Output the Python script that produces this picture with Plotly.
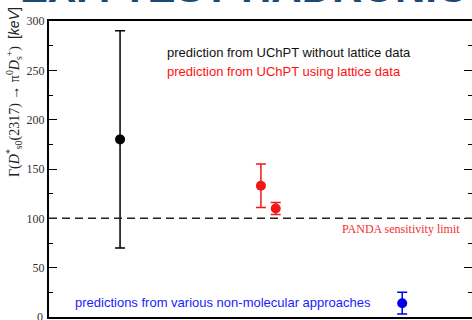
import plotly.graph_objects as go

# Decay-width predictions, keV (horizontal positions are just slots on the plot)
black_x = [0.168]
black_y = [180]
black_err = [110]

red_x = [0.501, 0.536]
red_y = [133, 110]
red_err = [22, 6]

blue_x = [0.835]
blue_y = [14]
blue_err = [11]

panda_limit = 100
y_ticks = [0, 50, 100, 150, 200, 250, 300]

W, H = 472, 320
ML, MR, MT, MB = 49, 0, 21, 3
PW = W - ML - MR

fig = go.Figure()


def series(xs, ys, errs, color):
    fig.add_trace(go.Scatter(
        x=xs, y=ys, mode="markers",
        marker=dict(color=color, size=10),
        error_y=dict(type="data", array=errs, visible=True,
                     color=color, thickness=1.5, width=5),
        showlegend=False, cliponaxis=False,
    ))


series(black_x, black_y, black_err, "black")
series(red_x, red_y, red_err, "#f01818")
series(blue_x, blue_y, blue_err, "#0000ee")

# PANDA sensitivity limit
fig.add_shape(type="line", xref="paper", yref="y", x0=0, x1=1,
              y0=panda_limit, y1=panda_limit,
              line=dict(color="#222", width=1.5, dash="8px,5px"))

# invisible trace carrying the right-hand tick marks
fig.add_trace(go.Scatter(x=[None], y=[None], yaxis="y2", showlegend=False))

serif = "Liberation Serif, Times New Roman, serif"
sans = "Liberation Sans, Arial, Helvetica, sans-serif"
tick_font = dict(family=serif, size=12, color="#333")

annotations = [
    dict(text="prediction from UChPT without lattice data", x=0.274, y=268,
         xref="paper", yref="y", xanchor="left", yanchor="middle",
         showarrow=False, font=dict(family=sans, size=13, color="#111")),
    dict(text="prediction from UChPT using lattice data", x=0.274, y=249,
         xref="paper", yref="y", xanchor="left", yanchor="middle",
         showarrow=False, font=dict(family=sans, size=13, color="#ff1010")),
    dict(text="predictions from various non-molecular approaches", x=0.056, y=14.5,
         xref="paper", yref="y", xanchor="left", yanchor="middle",
         showarrow=False, font=dict(family=sans, size=13, color="#1a1aff")),
    dict(text="PANDA sensitivity limit", x=0.976, y=89,
         xref="paper", yref="y", xanchor="right", yanchor="middle",
         showarrow=False, font=dict(family=serif, size=12, color="#f03030")),
    dict(text="Γ(<i>D</i><sup>*</sup><sub>s0</sub>(2317) → π<sup>0</sup><i>D</i><sub>s</sub><sup>+</sup>)  "
              "<span style='font-family:Liberation Sans'>[<i>keV</i>]</span>",
         x=(14 - ML) / PW, y=(H - MB - 92) / (H - MT - MB),
         xref="paper", yref="paper", xanchor="center", yanchor="middle",
         textangle=-90, showarrow=False,
         font=dict(family=serif, size=14, color="#222")),
    # label for the bottom tick, which the axis itself leaves out at the corner
    dict(text=str(y_ticks[0]), x=(45 - ML) / PW, y=y_ticks[0],
         xref="paper", yref="y", xanchor="right", yanchor="middle",
         showarrow=False, font=tick_font),
    dict(text="<b>EXP. TEST HADRONIC</b>", x=(18 - ML) / PW,
         y=1, yshift=(MT - 13),
         xref="paper", yref="paper", xanchor="left", yanchor="bottom",
         showarrow=False, font=dict(family=sans, size=42, color="#1c4a78")),
]

fig.update_layout(
    width=W, height=H,
    margin=dict(l=ML, r=MR, t=MT, b=MB),
    paper_bgcolor="white", plot_bgcolor="white",
    showlegend=False,
    annotations=annotations,
    xaxis=dict(range=[0, 1], showgrid=False, zeroline=False,
               showticklabels=False, ticks="",
               showline=True, linecolor="black", linewidth=2, mirror=True),
    yaxis=dict(range=[0, 300], tickvals=y_ticks,
               ticktext=[""] + [str(v) for v in y_ticks[1:]],
               showgrid=False, zeroline=False,
               ticks="inside", ticklen=8, tickwidth=1.2, tickcolor="black",
               showline=True, linecolor="black", linewidth=2,
               minor=dict(dtick=25, ticks="inside", ticklen=4,
                          tickwidth=1.2, tickcolor="black"),
               tickfont=tick_font),
    yaxis2=dict(range=[0, 300], overlaying="y", side="right",
                tickvals=y_ticks, showticklabels=False, showgrid=False,
                zeroline=False, showline=False,
                ticks="inside", ticklen=8, tickwidth=1.2, tickcolor="black",
                minor=dict(dtick=25, ticks="inside", ticklen=4,
                           tickwidth=1.2, tickcolor="black")),
)

fig.write_html("out.html")
